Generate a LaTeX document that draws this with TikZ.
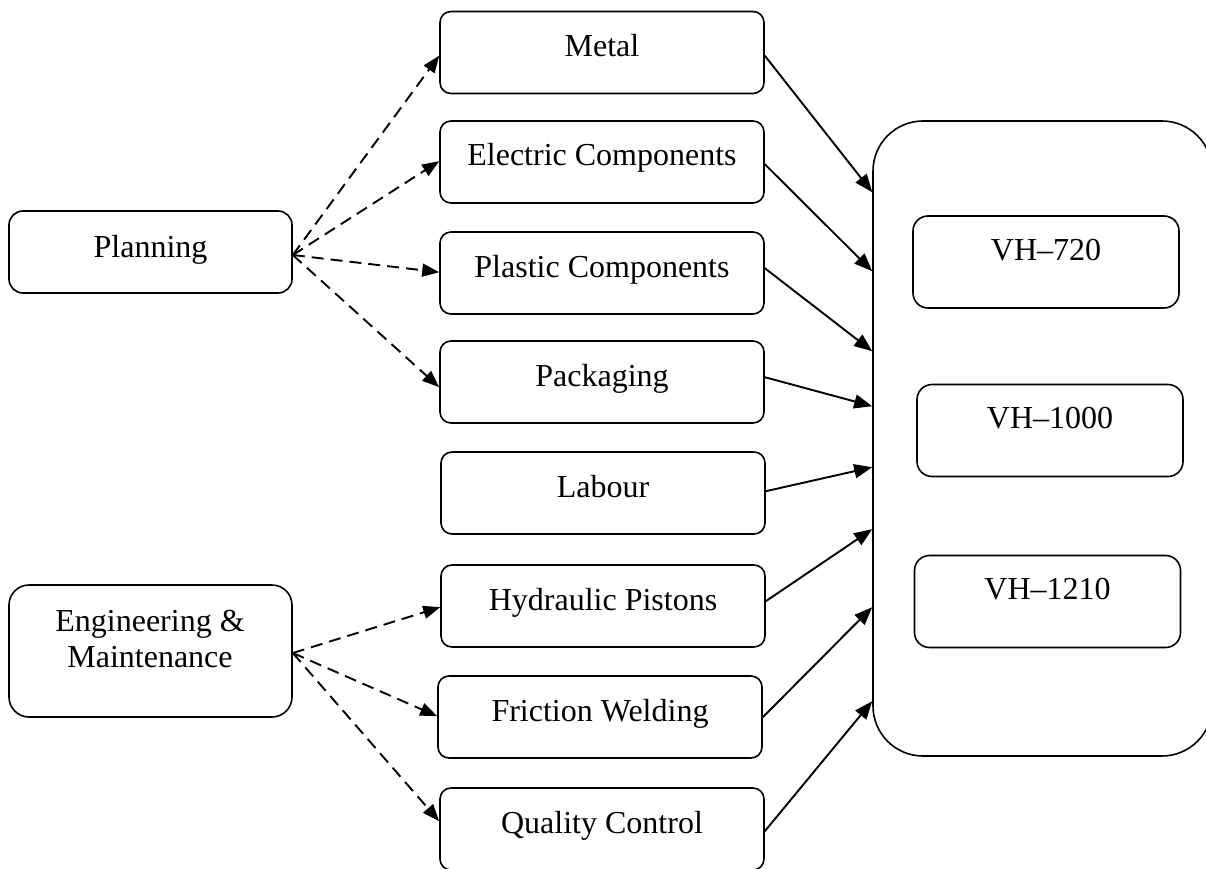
\documentclass[tikz,border=0pt]{standalone}
\usepackage{fontspec}
\setmainfont{Liberation Serif}
\usetikzlibrary{arrows.meta,calc}
\begin{document}
\begin{tikzpicture}[x=1pt,y=-1pt,
  box/.style={draw, line width=1.6pt, rounded corners=11pt, inner sep=0pt,
    font=\fontsize{32}{36}\selectfont},
  midbox/.style={box, minimum width=324pt, minimum height=82pt, text height=22pt, text depth=14pt},
  leftbox/.style={box, rounded corners=14pt, minimum width=283pt},
  vhbox/.style={box, rounded corners=15pt, minimum width=266pt, minimum height=92pt, text height=22pt, text depth=26pt},
  txt/.style={inner sep=0pt, font=\fontsize{32}{36}\selectfont},
  solidarrow/.style={line width=1.9pt, -{Triangle[length=18pt,width=14pt]}},
  dasharrow/.style={line width=1.9pt, dash pattern=on 12pt off 7pt, -{Triangle[length=17pt,width=13pt]}}
]
\path[use as bounding box, clip] (0,0) rectangle (1206,869);

% left sources
\node[leftbox, minimum height=82pt, text height=22pt, text depth=12pt] (plan) at (150.5,252) {Planning};
\node[leftbox, rounded corners=20pt, minimum height=132pt] (eng) at (150.5,651) {};
\node[txt, align=center] (engt) at (150,639) {Engineering \&\\Maintenance};

% middle resources
\node[midbox] (metal) at (602,52.5) {Metal};
\node[midbox] (elec) at (602,162) {Electric Components};
\node[midbox] (plast) at (602,273) {Plastic Components};
\node[midbox] (pack) at (602,382) {Packaging};
\node[midbox] (lab) at (603,493) {Labour};
\node[midbox] (hyd) at (603,606) {Hydraulic Pistons};
\node[midbox] (fric) at (600,717) {Friction Welding};
\node[midbox] (qual) at (602,829) {Quality Control};

% products
\node[draw, line width=1.6pt, rounded corners=50pt, inner sep=0pt,
  minimum width=339pt, minimum height=635pt] (big) at (1042.5,438.5) {};
\node[vhbox] (vh720) at (1046,262) {VH--720};
\node[vhbox] (vh1000) at (1050,430.5) {VH--1000};
\node[vhbox] (vh1210) at (1047.5,601.5) {VH--1210};

% dashed arrows
\draw[dasharrow] ($(plan.east)+(0,3)$) -- ($(metal.north west)+(0,45)$);
\draw[dasharrow] ($(plan.east)+(0,3)$) -- ($(elec.north west)+(0,41)$);
\draw[dasharrow] ($(plan.east)+(0,3)$) -- ($(plast.north west)+(0,41)$);
\draw[dasharrow] ($(plan.east)+(0,3)$) -- ($(pack.north west)+(0,47)$);
\draw[dasharrow] ($(eng.east)+(0,2)$) -- ($(hyd.north west)+(0,43)$);
\draw[dasharrow] ($(eng.east)+(0,2)$) -- ($(fric.north west)+(0,41)$);
\draw[dasharrow] ($(eng.east)+(0,2)$) -- ($(qual.north west)+(0,34)$);

% solid arrows
\draw[solidarrow] ($(metal.north east)+(0,45)$) -- ($(big.north west)+(0,72)$);
\draw[solidarrow] ($(elec.north east)+(0,44)$) -- ($(big.north west)+(0,151)$);
\draw[solidarrow] ($(plast.north east)+(0,37)$) -- ($(big.north west)+(0,231)$);
\draw[solidarrow] ($(pack.north east)+(0,37)$) -- ($(big.north west)+(0,286)$);
\draw[solidarrow] ($(lab.north east)+(0,40)$) -- ($(big.north west)+(0,347)$);
\draw[solidarrow] ($(hyd.north east)+(0,37)$) -- ($(big.north west)+(0,409)$);
\draw[solidarrow] ($(fric.north east)+(0,42)$) -- ($(big.north west)+(0,487)$);
\draw[solidarrow] ($(qual.north east)+(0,44)$) -- ($(big.north west)+(0,581)$);
\end{tikzpicture}
\end{document}
